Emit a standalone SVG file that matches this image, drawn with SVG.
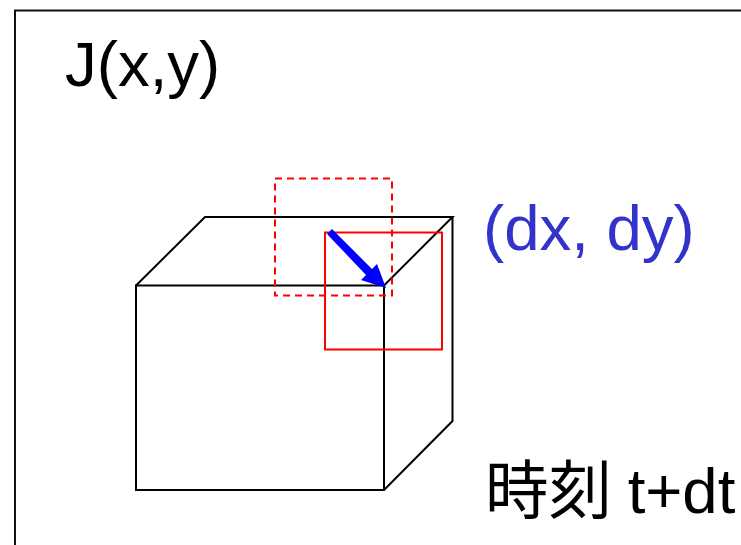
<svg xmlns="http://www.w3.org/2000/svg" width="741" height="545" viewBox="0 0 741 545">
<style>
text{font-family:"Liberation Sans","Noto Sans CJK JP",sans-serif;font-size:63.500px;fill:#000}
.k{fill:none;stroke:#000;stroke-width:2;stroke-linejoin:miter}
.r{fill:none;stroke:#f00;stroke-width:2}
</style>
<rect width="741" height="545" fill="#fff"/>
<path id="frame" d="M15 545V10.500H741" fill="none" stroke="#111" stroke-width="2"/>
<g id="cube">
<path class="k" d="M136 285.500H384V490H136Z"/>
<path class="k" d="M136 285.500L205 217H452.500L384 285.500"/>
<path class="k" d="M452.500 217V421L384 490"/>
</g>
<g id="box-before"><rect class="r" x="275" y="178.500" width="117" height="117" stroke-dasharray="7 5"/></g>
<g id="box-after"><rect class="r" x="325" y="232.500" width="117" height="117"/></g>
<g id="connectors">
<polygon fill="#00f" points="327,234 332,229 372,269 377,264 386,288 361,280 366,275"/>
</g>
<g id="labels">
<text x="65" y="86">J(x,y)</text>
<text x="483" y="250" style="fill:#3333cc">(dx, dy)</text>
<text x="485" y="513">時刻<tspan dx="-2"> t+dt</tspan></text>
</g>
</svg>
